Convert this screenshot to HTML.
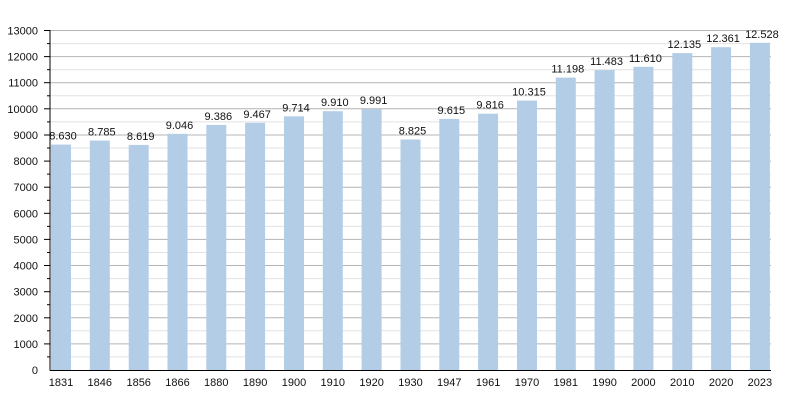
<!DOCTYPE html>
<html><head><meta charset="utf-8"><style>
html,body{margin:0;padding:0;background:#fff;width:800px;height:400px;overflow:hidden}
text{font-family:"Liberation Sans",Arial,sans-serif;font-size:11px;fill:#111}
</style></head><body>
<svg id="c" width="800" height="400" xmlns="http://www.w3.org/2000/svg"></svg>
<script>
var s='';
var y0=370,k=339.5/13000,L=50,R=771;
for(var v=500;v<=13000;v+=500){
 var y=(y0-v*k).toFixed(1);
 var major=v%1000==0;
 s+='<line x1="'+L+'" x2="'+R+'" y1="'+y+'" y2="'+y+'" stroke="'+(major?'#b4b4b4':'#e2e2e2')+'" stroke-width="1"/>';
 s+='<line x1="'+(major?44:47)+'" x2="'+L+'" y1="'+y+'" y2="'+y+'" stroke="#000" stroke-width="1"/>';
 if(major) s+='<text x="38" y="'+(+y+4)+'" text-anchor="end">'+v+'</text>';
}
s+='<text x="38" y="374" text-anchor="end">0</text>';
var yrs=[1831,1846,1856,1866,1880,1890,1900,1910,1920,1930,1947,1961,1970,1981,1990,2000,2010,2020,2023];
var vals=[8630,8785,8619,9046,9386,9467,9714,9910,9991,8825,9615,9816,10315,11198,11483,11610,12135,12361,12528];
for(var i=0;i<19;i++){
 var x=51+i*38.83,h=vals[i]*k,t=y0-h;
 s+='<rect x="'+x.toFixed(1)+'" y="'+t.toFixed(1)+'" width="20" height="'+h.toFixed(1)+'" fill="#b3cde6"/>';
 var str=(vals[i]/1000).toFixed(3);
 s+='<text x="'+(x+10+2).toFixed(1)+'" y="'+(t-5).toFixed(1)+'" text-anchor="middle">'+str+'</text>';
 s+='<text x="'+(x+10).toFixed(1)+'" y="386" text-anchor="middle">'+yrs[i]+'</text>';
}
s+='<line x1="'+L+'" x2="'+L+'" y1="30" y2="370.5" stroke="#000"/>';
s+='<line x1="'+L+'" x2="'+R+'" y1="370.5" y2="370.5" stroke="#000"/>';
document.getElementById('c').innerHTML=s;
</script>
</body></html>
